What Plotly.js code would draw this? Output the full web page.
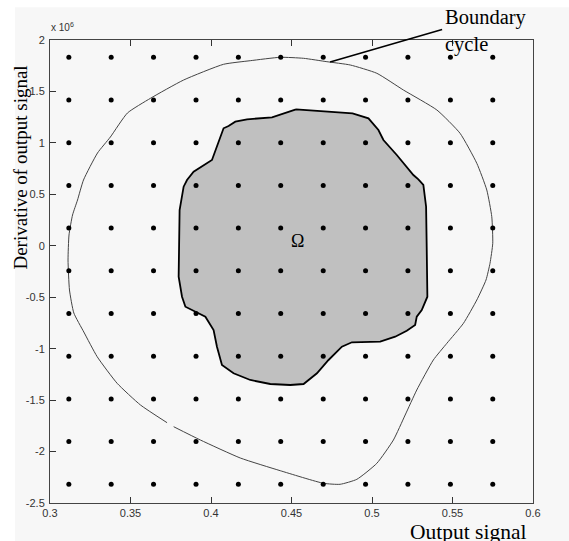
<!DOCTYPE html>
<html>
<head>
<meta charset="utf-8">
<script src="https://cdn.plot.ly/plotly-3.0.1.min.js"></script>
<style>html,body{margin:0;padding:0;background:#fff;}#chart{width:569px;height:541px;}</style>
</head>
<body>
<div id="chart"></div>
<script>
// Grid of sample points (y in units of 1e6)
const gridX = [0.3117, 0.3380, 0.3643, 0.3907, 0.4170, 0.4433, 0.4697, 0.4960, 0.5223, 0.5487, 0.5750];
const gridY = [1.832, 1.417, 1.002, 0.587, 0.172, -0.243, -0.658, -1.073, -1.488, -1.903, -2.318];

// Boundary cycle (limit cycle), y in units of 1e6
const cycleX = [0.3727, 0.3562, 0.3417, 0.3293, 0.3210, 0.3148, 0.3121, 0.3112, 0.3118, 0.3140, 0.3171, 0.3208, 0.3295, 0.3375, 0.3481, 0.3624, 0.3830, 0.4078, 0.4244, 0.4430, 0.4575, 0.4720, 0.4865, 0.5030, 0.5195, 0.5403, 0.5547, 0.5651, 0.5713, 0.5744, 0.5750, 0.5733, 0.5708, 0.5651, 0.5568, 0.5465, 0.5381, 0.5278, 0.5206, 0.5133, 0.5030, 0.4906, 0.4802, 0.4699, 0.4430, 0.4182, 0.3934, 0.3768];
const cycleY = [-1.7195, -1.5475, -1.3366, -1.0781, -0.838, -0.6533, -0.4298, -0.1382, 0.1048, 0.2991, 0.4449, 0.6393, 0.9017, 1.0572, 1.2905, 1.4334, 1.6112, 1.7638, 1.7988, 1.8319, 1.8221, 1.7891, 1.757, 1.6764, 1.514, 1.3197, 1.0932, 0.8016, 0.5421, 0.2826, 0.0241, -0.1703, -0.3326, -0.527, -0.7535, -0.9478, -1.1101, -1.4017, -1.6447, -1.8877, -2.1142, -2.2697, -2.3182, -2.3085, -2.186, -2.0626, -1.8877, -1.7584];

// Region Omega
const omegaX = [0.4528, 0.4879, 0.4978, 0.5040, 0.5071, 0.5154, 0.5257, 0.5288, 0.5319, 0.5336, 0.5340, 0.5344, 0.5309, 0.5278, 0.5268, 0.5216, 0.5144, 0.5051, 0.4875, 0.4813, 0.4730, 0.4658, 0.4575, 0.4492, 0.4368, 0.4244, 0.4140, 0.4068, 0.4037, 0.4016, 0.3965, 0.3841, 0.3820, 0.3799, 0.3805, 0.3830, 0.3851, 0.3892, 0.4006, 0.4078, 0.4109, 0.4151, 0.4224, 0.4379, 0.4528];
const omegaY = [1.3265, 1.2876, 1.239, 1.1253, 1.0281, 0.8823, 0.6879, 0.6461, 0.5907, 0.3798, -0.041, -0.4949, -0.6242, -0.6893, -0.770, -0.8254, -0.8837, -0.9323, -0.9381, -0.9809, -1.1101, -1.2394, -1.3434, -1.3531, -1.3434, -1.3045, -1.2394, -1.1587, -0.9809, -0.8186, -0.6893, -0.5921, -0.4949, -0.3005, 0.3477, 0.5742, 0.6393, 0.72, 0.8337, 1.1418, 1.1641, 1.2059, 1.2293, 1.2487, 1.3265];

const xTicks = [0.3, 0.35, 0.4, 0.45, 0.5, 0.55, 0.6];
const xTickText = ['0.3', '0.35', '0.4', '0.45', '0.5', '0.55', '0.6'];
const yTicks = [2, 1.5, 1, 0.5, 0, -0.5, -1, -1.5, -2, -2.5];
const yTickText = ['2', '1.5', '1', '0.5', '0', '-0.5', '-1', '-1.5', '-2', '-2.5'];

const dotX = [], dotY = [];
for (const yy of gridY) for (const xx of gridX) { dotX.push(xx); dotY.push(yy); }

const traces = [
  {x: omegaX, y: omegaY, type: 'scatter', mode: 'lines', fill: 'toself', fillcolor: '#c0c0c0',
   line: {color: '#000', width: 1.8}, hoverinfo: 'skip'},
  {x: cycleX, y: cycleY, type: 'scatter', mode: 'lines', line: {color: '#444', width: 1, shape: 'spline', smoothing: 0.5}, hoverinfo: 'skip'},
  {x: dotX, y: dotY, type: 'scatter', mode: 'markers', marker: {color: '#000', size: 5}, hoverinfo: 'skip'}
];

const serif = 'Liberation Serif, Times New Roman, serif';
const layout = {
  width: 569, height: 541,
  margin: {l: 50, r: 36, t: 40, b: 38, pad: 0},
  paper_bgcolor: '#ffffff', plot_bgcolor: '#f7f7f7',
  showlegend: false,
  xaxis: {range: [0.3, 0.6], tickvals: xTicks, ticktext: xTickText, ticks: 'inside', ticklen: 6,
          tickcolor: '#333', showline: true, linecolor: '#444', linewidth: 1, mirror: 'ticks',
          showgrid: false, zeroline: false, tickfont: {family: 'Liberation Sans, Arial', size: 11, color: '#333'}},
  yaxis: {range: [-2.5, 2], tickvals: yTicks, ticktext: yTickText, ticks: 'inside', ticklen: 6,
          tickcolor: '#333', showline: true, linecolor: '#444', linewidth: 1, mirror: true,
          showgrid: false, zeroline: false, ticklabelstandoff: 2,
          tickfont: {family: 'Liberation Sans, Arial', size: 11, color: '#333'}},
  shapes: [
    {type: 'rect', xref: 'paper', yref: 'paper', x0: -0.0725, x1: 1.1, y0: -0.1, y1: 1.071,
     fillcolor: '#f7f7f7', line: {width: 0}, layer: 'below'}
  ],
  annotations: [
    {text: 'x 10<sup>6</sup>', xref: 'paper', yref: 'paper', x: -0.002, y: 1.01, xanchor: 'left', yanchor: 'bottom',
     showarrow: false, font: {family: 'Liberation Sans, Arial', size: 10, color: '#333'}},
    {text: 'Derivative of output signal', xref: 'paper', yref: 'paper', x: -0.062, y: 0.7246,
     xanchor: 'center', yanchor: 'middle', textangle: -90, showarrow: false,
     font: {family: serif, size: 19, color: '#000'}},
    {text: 'Output signal', xref: 'paper', yref: 'paper', x: 0.865, y: -0.0626,
     xanchor: 'center', yanchor: 'middle', showarrow: false,
     font: {family: serif, size: 21.5, color: '#000'}},
    {text: 'Boundary<br>cycle', xref: 'paper', yref: 'paper', x: 0.813, y: 1.077,
     xanchor: 'left', yanchor: 'top', align: 'left', showarrow: false,
     font: {family: serif, size: 20.5, color: '#000'}},
    {text: ' ', x: 0.474, y: 1.786, xref: 'x', yref: 'y', showarrow: true, arrowhead: 0,
     arrowwidth: 1.6, arrowcolor: '#000', ax: 114, ay: -33, standoff: 0, startstandoff: 0,
     font: {size: 2}},
    {text: 'Ω', x: 0.4536, y: 0.0465, xref: 'x', yref: 'y', showarrow: false,
     font: {family: serif, size: 18, color: '#000'}}
  ]
};

Plotly.newPlot('chart', traces, layout, {staticPlot: true, displayModeBar: false});
</script>
</body>
</html>
